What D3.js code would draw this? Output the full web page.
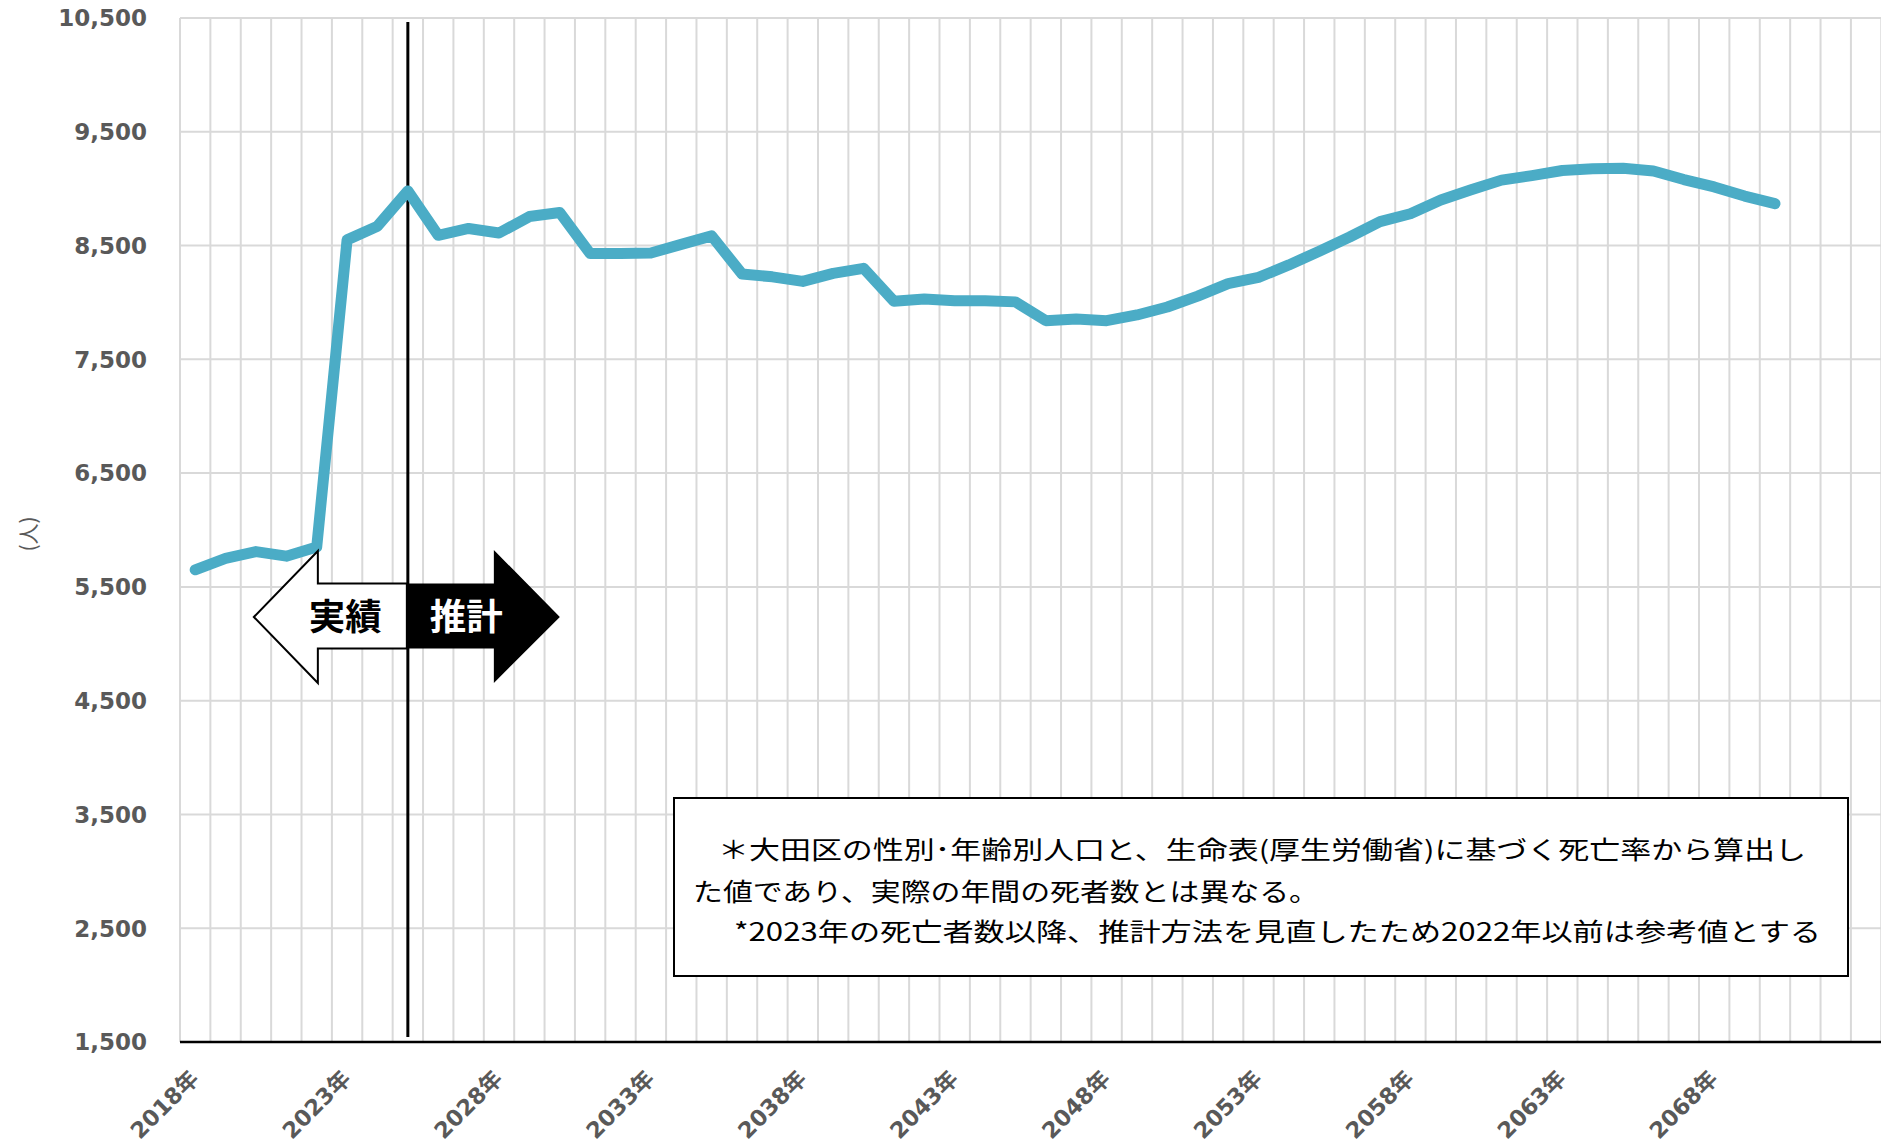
<!DOCTYPE html>
<html><head><meta charset="utf-8">
<script src="https://cdn.jsdelivr.net/npm/d3@7"></script>
<style>
html,body{margin:0;padding:0;background:#fff;}
svg{display:block;}
</style></head>
<body>
<svg id="chart" width="1881" height="1144"></svg>
<script>
// ---- data ----
const years = d3.range(2018, 2074); // category axis 2018..2073
const dataYears = d3.range(2018, 2071);
const deaths = [5650,5750,5810,5770,5850,8550,8670,8980,8590,8650,
                8610,8755,8790,8430,8430,8435,8510,8585,8250,8225,
                8185,8255,8300,8010,8030,8015,8015,8005,7840,7855,
                7840,7890,7960,8055,8165,8220,8330,8450,8575,8710,
                8780,8900,8990,9075,9115,9160,9175,9180,9155,9080,
                9015,8935,8868];
const yTicks = [1500,2500,3500,4500,5500,6500,7500,8500,9500,10500];
const xTickYears = [2018,2023,2028,2033,2038,2043,2048,2053,2058,2063,2068];
const dividerYear = 2025;
const noteLines = [
  "＊大田区の性別･年齢別人口と、生命表(厚生労働省)に基づく死亡率から算出し",
  "た値であり、実際の年間の死者数とは異なる。",
  "*2023年の死亡者数以降、推計方法を見直したため2022年以前は参考値とする"
];

const svg = d3.select("#chart");
const L = 180, R = 1881.3, T = 18, B = 1042;
const x = d3.scaleBand().domain(years).range([L, R]).paddingInner(0).paddingOuter(0);
const bw = x.bandwidth();
const cx = d => x(d) + bw / 2;
const y = d3.scaleLinear().domain([1500, 10500]).range([B, T]);

const labelFont = "'DejaVu Sans','Noto Sans CJK JP',sans-serif";
const grey = "#595959";

// gridlines
const g = svg.append("g");
g.selectAll("line.h").data(yTicks.filter(v => v > 1500)).join("line")
  .attr("x1", L).attr("x2", 1881).attr("y1", d => y(d)).attr("y2", d => y(d))
  .attr("stroke", "#d9d9d9").attr("stroke-width", 2);
const bounds = years.map(d => x(d)).concat([R]);
g.selectAll("line.v").data(bounds).join("line")
  .attr("x1", d => d).attr("x2", d => d).attr("y1", T).attr("y2", B)
  .attr("stroke", "#d9d9d9").attr("stroke-width", 2);

// x axis line
svg.append("line").attr("x1", L).attr("x2", 1881).attr("y1", y(1500)).attr("y2", y(1500))
  .attr("stroke", "#000").attr("stroke-width", 2.5);

// y tick labels
svg.append("g").selectAll("text").data(yTicks).join("text")
  .attr("x", 147).attr("y", d => y(d)).attr("dy", "0.36em")
  .attr("text-anchor", "end")
  .attr("font-family", labelFont).attr("font-weight", "bold").attr("font-size", 23)
  .attr("fill", grey).text(d => d3.format(",")(d));

// x tick labels
svg.append("g").selectAll("text").data(xTickYears).join("text")
  .attr("transform", d => `translate(${cx(d) + 5},${1080}) rotate(-45)`)
  .attr("text-anchor", "end")
  .attr("font-family", labelFont).attr("font-weight", "bold").attr("font-size", 22.5)
  .attr("fill", grey).text(d => d + "年");

// y axis title
svg.append("text").attr("transform", "translate(29,534) rotate(-90)")
  .attr("text-anchor", "middle").attr("dy", "0.35em")
  .attr("font-family", "'Noto Sans CJK JP',sans-serif").attr("font-size", 21)
  .attr("fill", grey).text("(人)");

// divider line
const dx = cx(dividerYear);
svg.append("line").attr("x1", dx).attr("x2", dx).attr("y1", 22).attr("y2", 1037)
  .attr("stroke", "#000").attr("stroke-width", 3);

// data line
const line = d3.line().x((d, i) => cx(dataYears[i])).y(d => y(d));
svg.append("path").datum(deaths).attr("d", line)
  .attr("fill", "none").attr("stroke", "#4bacc6").attr("stroke-width", 11)
  .attr("stroke-linejoin", "round").attr("stroke-linecap", "round");

// arrows
const ay = 617, hT = 551, hB = 683, sT = 583.5, sB = 648.5;
const white = [[dx - 154, ay], [dx - 90, hT], [dx - 90, sT], [dx, sT], [dx, sB], [dx - 90, sB], [dx - 90, hB]];
svg.append("polygon").attr("points", white.map(p => p.join(",")).join(" "))
  .attr("fill", "#fff").attr("stroke", "#000").attr("stroke-width", 2);
const black = [[dx - 2, sT], [dx + 86, sT], [dx + 86, hT - 1], [dx + 152, ay], [dx + 86, hB], [dx + 86, sB], [dx - 2, sB]];
svg.append("polygon").attr("points", black.map(p => p.join(",")).join(" "))
  .attr("fill", "#000");
svg.append("text").attr("x", dx - 99).attr("y", ay).attr("dy", "0.36em")
  .attr("textLength", 73).attr("lengthAdjust", "spacingAndGlyphs")
  .attr("font-family", "'Noto Sans CJK JP',sans-serif").attr("font-weight", "bold").attr("font-size", 36)
  .attr("fill", "#000").text("実績");
svg.append("text").attr("x", dx + 22).attr("y", ay).attr("dy", "0.36em")
  .attr("textLength", 73).attr("lengthAdjust", "spacingAndGlyphs")
  .attr("font-family", "'Noto Sans CJK JP',sans-serif").attr("font-weight", "bold").attr("font-size", 36)
  .attr("fill", "#fff").text("推計");

// note box
svg.append("rect").attr("x", 674).attr("y", 798).attr("width", 1174).attr("height", 178)
  .attr("fill", "#fff").attr("stroke", "#000").attr("stroke-width", 2);
const noteX = [718, 693, 734], noteY = [850, 892, 932], noteW = [1088, 626, 1087];
svg.append("g").selectAll("text").data(noteLines).join("text")
  .attr("x", (d, i) => noteX[i]).attr("y", (d, i) => noteY[i]).attr("dy", "0.36em")
  .attr("textLength", (d, i) => noteW[i]).attr("lengthAdjust", "spacingAndGlyphs")
  .attr("font-family", "'Noto Sans CJK JP',sans-serif").attr("font-size", 25)
  .attr("fill", "#000").text(d => d);
</script>
</body></html>
